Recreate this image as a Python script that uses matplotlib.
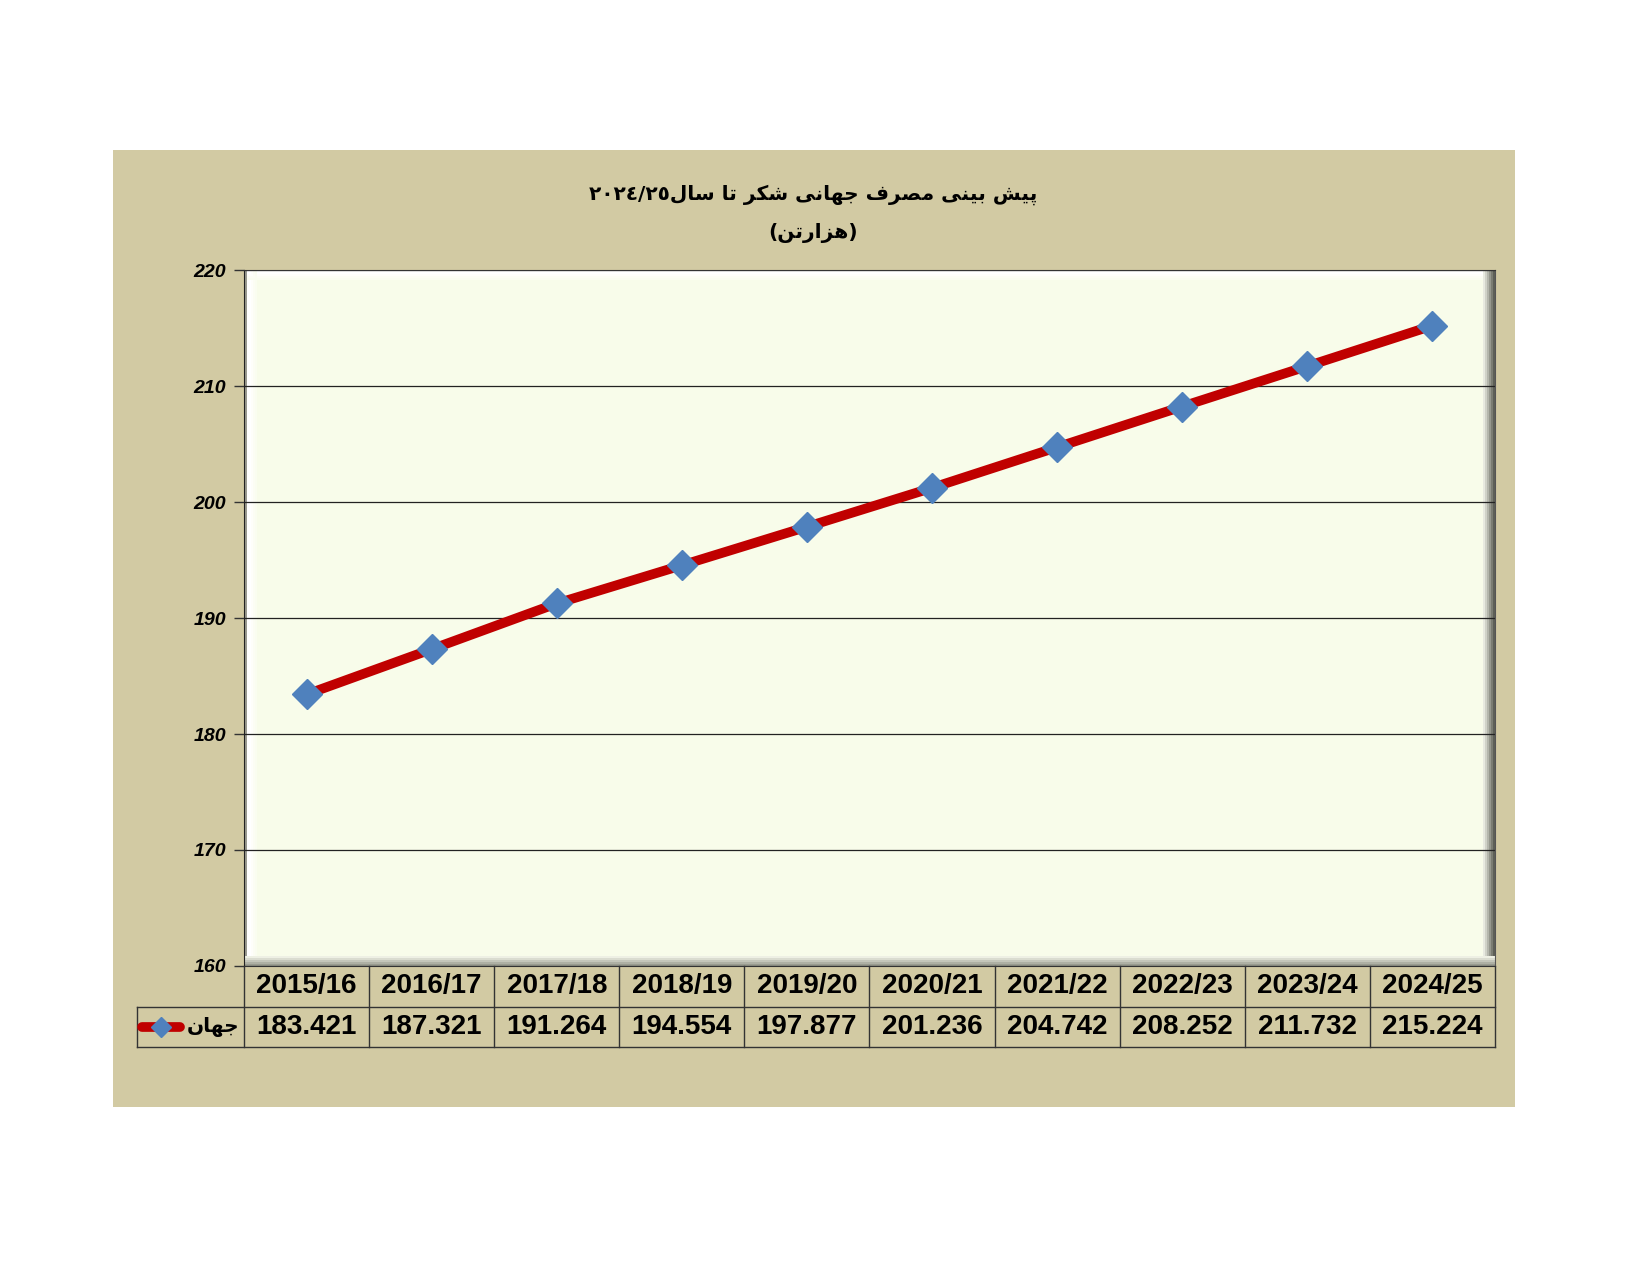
import matplotlib
matplotlib.use("Agg")
import matplotlib.pyplot as plt
from matplotlib.patches import Rectangle
from matplotlib.lines import Line2D
import matplotlib.transforms as mtransforms
import re

# data
seasons = ["2015/16", "2016/17", "2017/18", "2018/19", "2019/20",
           "2020/21", "2021/22", "2022/23", "2023/24", "2024/25"]
consumption = [183.421, 187.321, 191.264, 194.554, 197.877,
               201.236, 204.742, 208.252, 211.732, 215.224]
series_name = "جهان"
title_1 = "پیش بینی مصرف جهانی شکر تا سال٢٠٢٤/٢٥"
title_2 = "(هزارتن)"
y_ticks = [160, 170, 180, 190, 200, 210, 220]

# small arabic shaping helper (matplotlib has no complex text layout)
FORMS = {
    "\u0627": ("\uFE8D", "\uFE8E", None, None),
    "\u0628": ("\uFE8F", "\uFE90", "\uFE91", "\uFE92"),
    "\u067E": ("\uFB56", "\uFB57", "\uFB58", "\uFB59"),
    "\u062A": ("\uFE95", "\uFE96", "\uFE97", "\uFE98"),
    "\u062C": ("\uFE9D", "\uFE9E", "\uFE9F", "\uFEA0"),
    "\u0631": ("\uFEAD", "\uFEAE", None, None),
    "\u0632": ("\uFEAF", "\uFEB0", None, None),
    "\u0633": ("\uFEB1", "\uFEB2", "\uFEB3", "\uFEB4"),
    "\u0634": ("\uFEB5", "\uFEB6", "\uFEB7", "\uFEB8"),
    "\u0635": ("\uFEB9", "\uFEBA", "\uFEBB", "\uFEBC"),
    "\u0641": ("\uFED1", "\uFED2", "\uFED3", "\uFED4"),
    "\u06A9": ("\uFB8E", "\uFB8F", "\uFB90", "\uFB91"),
    "\u0644": ("\uFEDD", "\uFEDE", "\uFEDF", "\uFEE0"),
    "\u0645": ("\uFEE1", "\uFEE2", "\uFEE3", "\uFEE4"),
    "\u0646": ("\uFEE5", "\uFEE6", "\uFEE7", "\uFEE8"),
    "\u0647": ("\uFEE9", "\uFEEA", "\uFEEB", "\uFEEC"),
    "\u06CC": ("\uFBFC", "\uFBFD", "\uFBFE", "\uFBFF"),
}
DUAL = {c for c, f in FORMS.items() if f[2] is not None}


def shape(s):
    tokens = []
    i = 0
    while i < len(s):
        if s[i] == "\u0644" and i + 1 < len(s) and s[i + 1] == "\u0627":
            tokens.append("LA")
            i += 2
        else:
            tokens.append(s[i])
            i += 1
    out = []
    for k, t in enumerate(tokens):
        prev = tokens[k - 1] if k > 0 else None
        nxt = tokens[k + 1] if k + 1 < len(tokens) else None
        joinable = t in FORMS or t == "LA"
        p = prev in DUAL and joinable
        q = t in DUAL and (nxt in FORMS or nxt == "LA")
        if t == "LA":
            out.append("\uFEFC" if p else "\uFEFB")
        elif t in FORMS:
            iso, fin, ini, med = FORMS[t]
            out.append(med if (p and q) else fin if p else ini if q else iso)
        else:
            out.append(t)
    return "".join(out)


def rtl(s):
    shaped = shape(s)
    digits = r"[0-9\u0660-\u0669\u06F0-\u06F9/.]+"
    runs = re.findall(digits + r"|[^0-9\u0660-\u0669\u06F0-\u06F9/.]+", shaped)
    mirror = str.maketrans("()", ")(")
    out = []
    for r in reversed(runs):
        if re.fullmatch(digits, r):
            out.append(r)
        else:
            out.append(r[::-1].translate(mirror))
    return "".join(out)


tan = "#D2CAA3"
face = "#F8FCEA"
red = "#C00000"
blue = "#4F81BD"

fig = plt.figure(figsize=(16.5, 12.75), dpi=100)
fig.patch.set_facecolor("white")

# tan chart panel
fig.add_artist(Rectangle((0.0682, 0.1318), 0.918 - 0.0682, 0.882 - 0.1318,
                         transform=fig.transFigure, facecolor=tan,
                         edgecolor="none", zorder=-5))

fig.text(0.493, 1 - 195 / 1275, rtl(title_1), ha="center", va="center",
         fontsize=14.5, fontweight="bold", family="DejaVu Sans")
fig.text(0.493, 1 - 233 / 1275, rtl(title_2), ha="center", va="center",
         fontsize=14.5, fontweight="bold", family="DejaVu Sans")

ax = fig.add_axes([0.1479, 0.2424, 0.906 - 0.1479, 0.788 - 0.2424])
ax.set_zorder(1)
ax.set_facecolor(face)
x = list(range(len(seasons)))

# bevel look of the plot area
def strip(x0, y0, w, h, c):
    ax.add_patch(Rectangle((x0, y0), w, h, transform=ax.transAxes,
                           facecolor=c, edgecolor="none", zorder=0.2))

for k, c in enumerate(["#FFFFFF", "#FFFFFF", "#FEFEFA", "#FCFDF4", "#FAFDF0"]):
    strip(0, 1 - (k + 1) * 0.0028, 1, 0.0028, c)
    strip(0.002 + k * 0.0016, 0, 0.0016, 1, c)
strip(0, 0, 0.002, 1, "#9A9A90")
for k, c in enumerate(["#E8EAE0", "#D0D2C8", "#B4B6AC", "#96988E", "#7A7C72", "#5E6058"]):
    strip(1 - (6 - k) * 0.0016, 0, 0.0016, 1, c)
for k, c in enumerate(["#EEF0E4", "#DADCD0", "#C4C6BA", "#AEB0A4", "#9A9C90"]):
    strip(0, (4 - k) * 0.0028, 1, 0.0028, c)

ax.plot(x, consumption, color=red, lw=7, solid_capstyle="round", zorder=3,
        marker="D", markersize=15, markerfacecolor=blue, markeredgecolor=blue)

ax.set_xlim(-0.5, len(seasons) - 0.5)
ax.set_ylim(160, 220)
ax.set_yticks(y_ticks)
ax.set_yticklabels([str(v) for v in y_ticks], fontsize=14, fontweight="bold",
                   fontstyle="italic", family="Liberation Sans")
ax.tick_params(axis="y", direction="out", length=7, width=1, color="#333333", pad=6)
ax.set_xticks([])
ax.yaxis.grid(True, color="#222222", lw=0.9)
ax.set_axisbelow(True)
ax.spines["left"].set_color("#222222")
ax.spines["top"].set_color("#333333")
ax.spines["right"].set_color("#555555")
ax.spines["bottom"].set_color("#333333")

# data table under the axis
tr = mtransforms.blended_transform_factory(ax.transData, ax.transAxes)
r1 = -41 / 696
r2 = -81 / 696
leg_left = (137 - 244) / 1251
lc = "#333333"
for b in [k - 0.5 for k in range(len(seasons) + 1)]:
    ax.add_line(Line2D([b, b], [0, r2], transform=tr, color=lc, lw=1, clip_on=False))
ax.add_line(Line2D([leg_left, 1], [r1, r1], transform=ax.transAxes, color=lc, lw=1, clip_on=False))
ax.add_line(Line2D([leg_left, 1], [r2, r2], transform=ax.transAxes, color=lc, lw=1, clip_on=False))
ax.add_line(Line2D([leg_left, leg_left], [r1, r2], transform=ax.transAxes, color=lc, lw=1, clip_on=False))

for xi, s, v in zip(x, seasons, consumption):
    ax.text(xi, r1 / 2, s, transform=tr, ha="center", va="center", fontsize=20,
            fontweight="bold", family="Liberation Sans")
    ax.text(xi, (r1 + r2) / 2, f"{v:.3f}", transform=tr, ha="center", va="center",
            fontsize=20, fontweight="bold", family="Liberation Sans")

# legend key inside the table
ym = (r1 + r2) / 2
ax.add_line(Line2D([leg_left + 0.004, leg_left + 0.034], [ym, ym], transform=ax.transAxes,
                   color=red, lw=7, solid_capstyle="round", clip_on=False))
ax.add_line(Line2D([leg_left + 0.019], [ym], transform=ax.transAxes, marker="D",
                   markersize=10, color=blue, clip_on=False))
ax.text(-0.004, ym, rtl(series_name), transform=ax.transAxes, ha="right", va="center",
        fontsize=14.5, fontweight="bold", family="DejaVu Sans")

fig.savefig("out.png", dpi=100)
